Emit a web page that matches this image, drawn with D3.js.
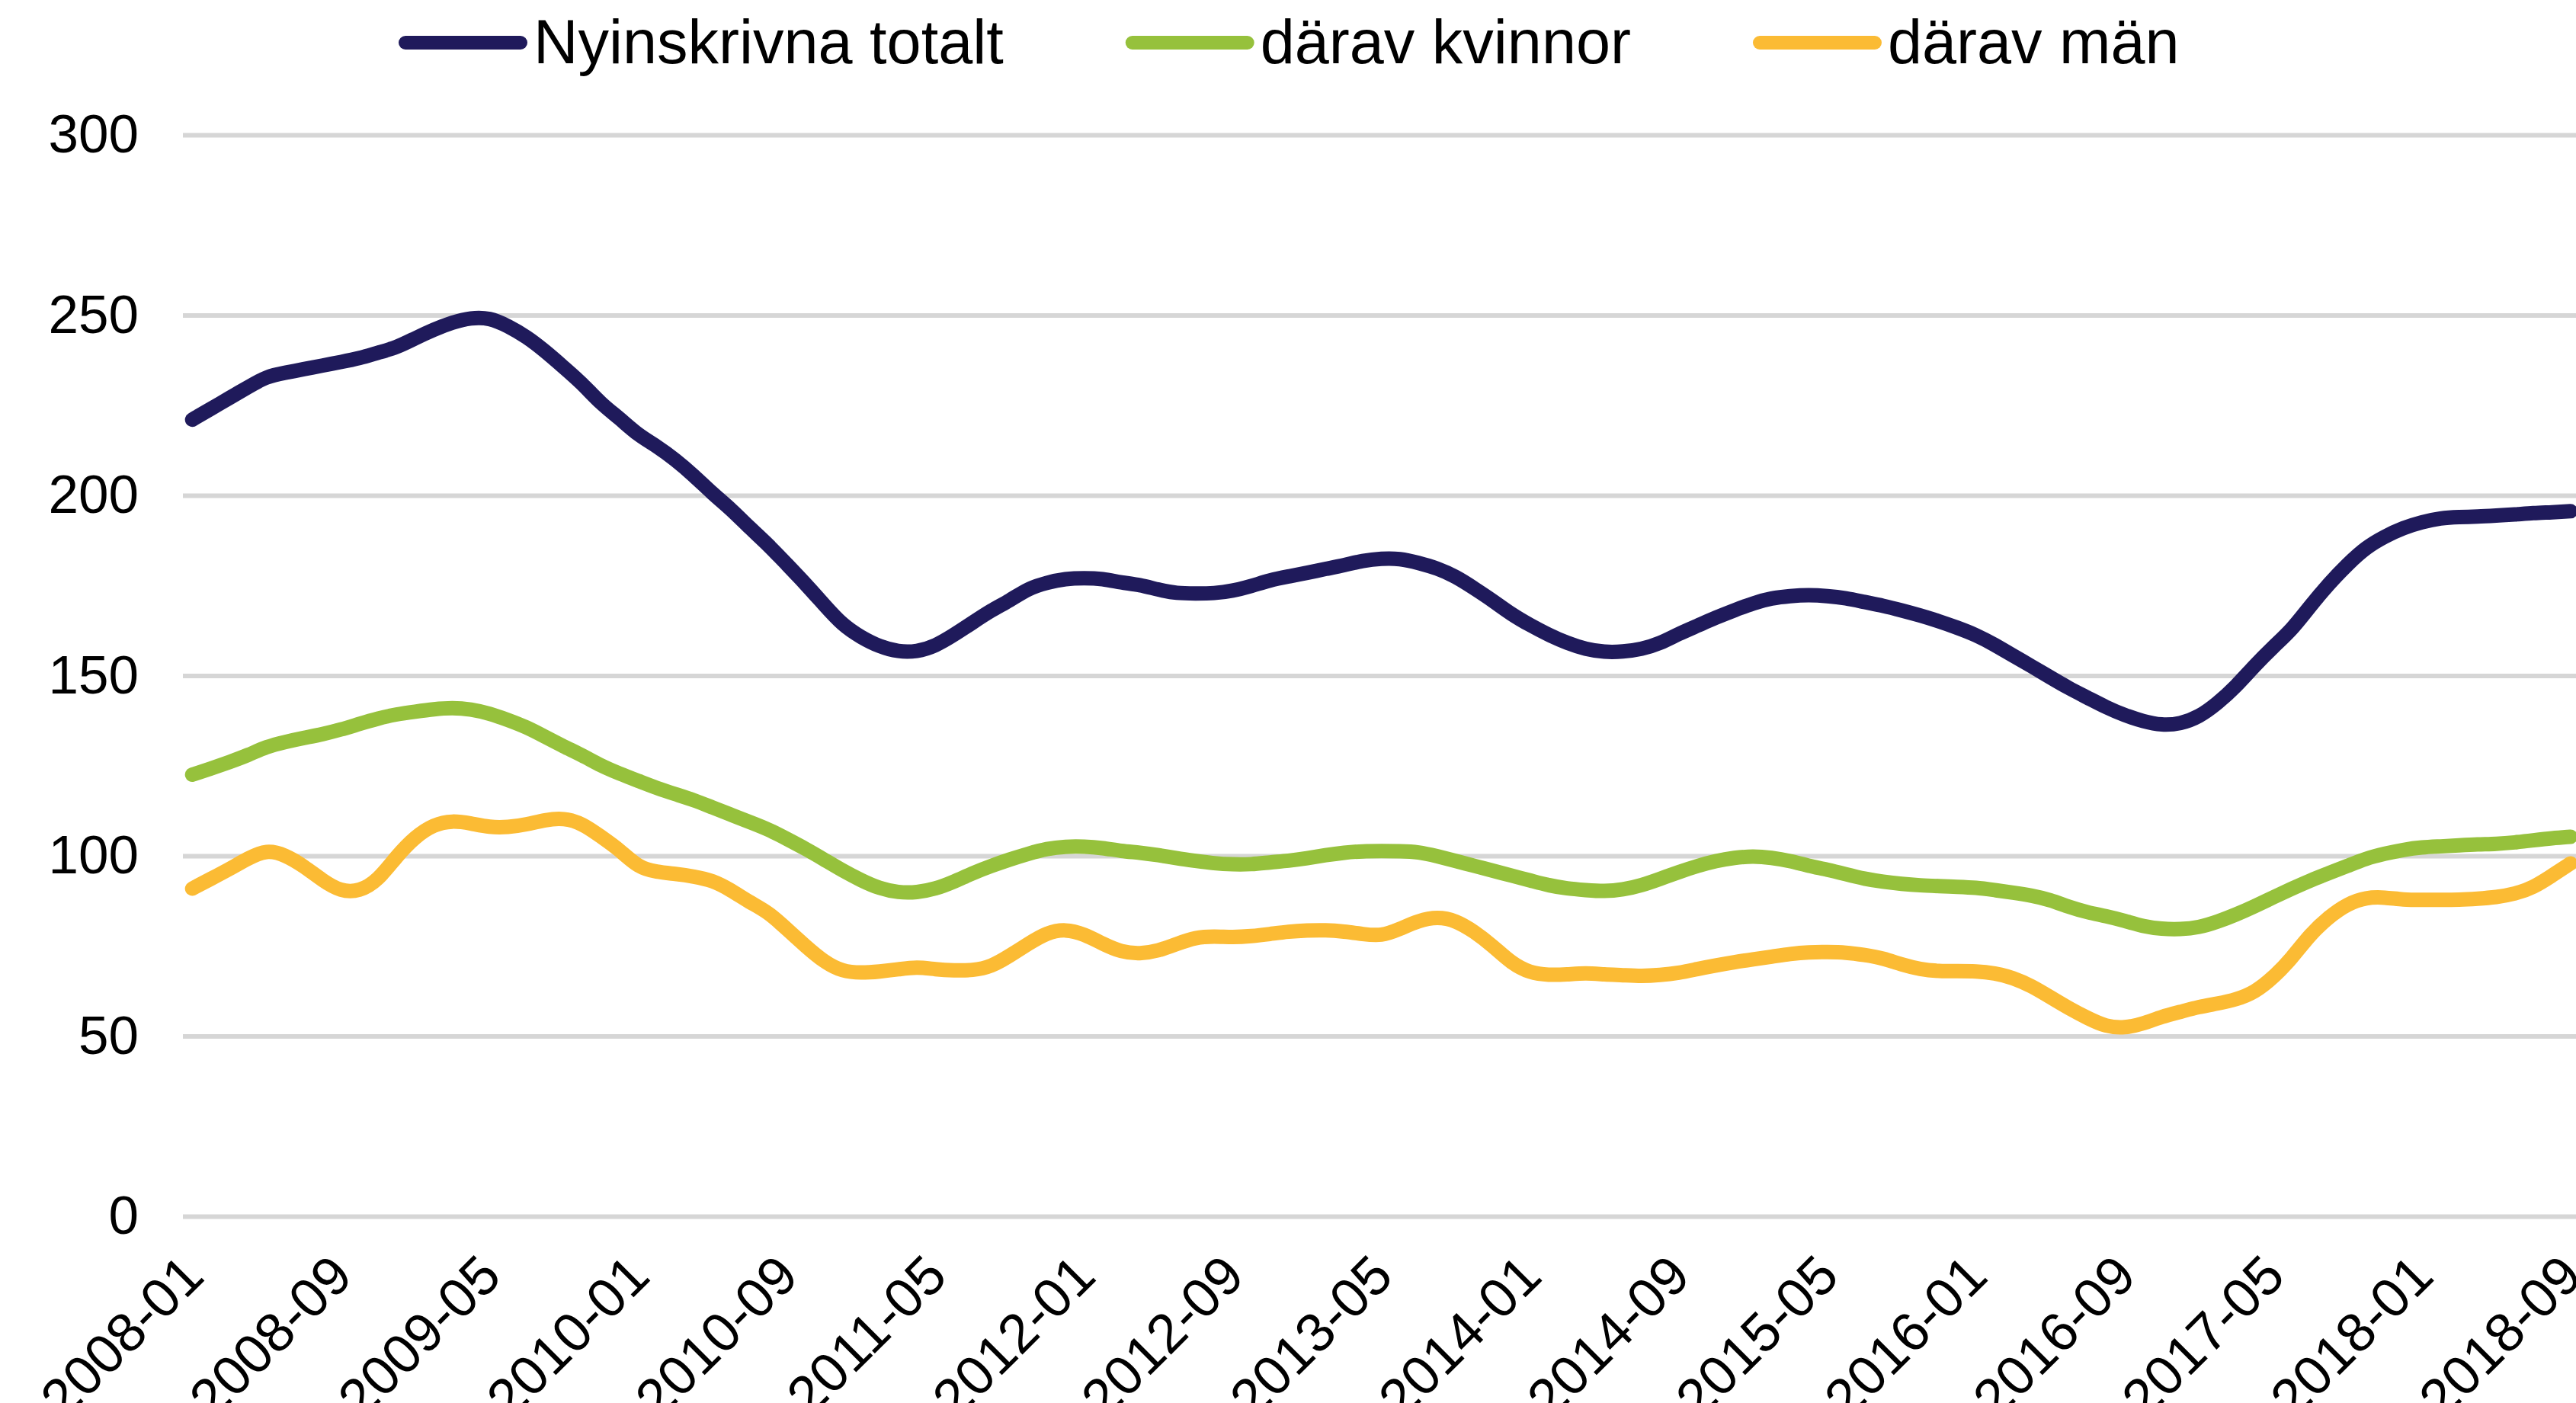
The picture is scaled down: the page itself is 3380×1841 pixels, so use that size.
<!DOCTYPE html>
<html>
<head>
<meta charset="utf-8">
<script src="https://cdn.jsdelivr.net/npm/d3@7"></script>
<style>
  body { margin: 0; background: #fff; }
  svg { display: block; font-family: "Liberation Sans", Arial, sans-serif; }
</style>
</head>
<body>
<div id="chart"></div>
<script>
// monthly categories 2008-01 .. 2018-09
const firstMonth = new Date(Date.UTC(2008, 0, 1));
const lastMonth = new Date(Date.UTC(2018, 8, 1));
const months = d3.utcMonth.range(firstMonth, d3.utcMonth.offset(lastMonth, 1)).map(d3.utcFormat('%Y-%m'));

const tickLabels = ['2008-01', '2008-09', '2009-05', '2010-01', '2010-09', '2011-05', '2012-01', '2012-09',
  '2013-05', '2014-01', '2014-09', '2015-05', '2016-01', '2016-09', '2017-05', '2018-01', '2018-09'];

const yTicks = [0, 50, 100, 150, 200, 250, 300];

const seriesNames = ['Nyinskrivna totalt', 'därav kvinnor', 'därav män'];
const seriesColors = ['#1f1a5b', '#96c13c', '#fbbb34'];

const totalt = [
  221, 224, 227, 230, 233, 234, 235, 236, 237, 238, 239.6, 241, 243.6, 246, 248, 249.3, 249.3, 247, 244, 240,
  235.5, 231, 225.4, 221.4, 216.7, 213.7, 209.9, 205.5, 200.5, 196.2, 191, 186.3, 180.9, 175.5, 169.7, 164, 160.6, 158, 156.6, 156.6,
  158.2, 161.3, 164.7, 168.1, 170.8, 174.2, 175.8, 176.9, 177.1, 176.9, 175.8, 175.2, 173.8, 172.8, 172.8, 172.8, 173.5, 174.8, 176.5, 177.5,
  178.5, 179.6, 180.6, 181.9, 182.5, 182.5, 181.3, 179.8, 177.5, 174.2, 170.8, 167, 164, 161.3, 159, 157.3, 156.5, 156.6, 157.3, 158.9,
  161.6, 163.8, 166.1, 168.1, 170.1, 171.5, 172.1, 172.4, 172.1, 171.5, 170.4, 169.4, 168.1, 166.7, 165.1, 163.3, 161.3, 158.6, 155.5, 152.6,
  149.5, 146.5, 143.9, 141.2, 139, 137.3, 136.2, 136.6, 138.5, 142.3, 147, 152.8, 158, 162.7, 169.4, 175.5, 180.9, 185.6, 188.6, 191,
  192.6, 193.7, 194, 194.1, 194.4, 194.7, 195.1, 195.3, 195.6
];

const kvinnor = [
  122.5, 124.2, 126, 127.9, 130.3, 131.6, 132.7, 133.7, 135, 136.6, 138.1, 139.3, 140, 140.7, 141.1, 140.7, 139.5, 137.7, 135.7, 133,
  130.3, 127.9, 125, 122.8, 120.8, 118.8, 117.1, 115.5, 113.4, 111.4, 109.4, 107.4, 104.7, 102, 99, 95.9, 93.2, 90.9, 89.8, 89.8,
  90.8, 92.8, 95.2, 97.2, 99, 100.6, 102, 102.6, 102.6, 102.2, 101.3, 100.9, 100.2, 99.3, 98.6, 97.9, 97.6, 97.6, 98.2, 98.6,
  99.3, 100.2, 100.9, 101.3, 101.3, 101.3, 101.1, 99.9, 98.6, 97.2, 95.9, 94.5, 93.2, 91.8, 90.9, 90.5, 90.1, 90.6, 91.8, 93.6,
  95.5, 97.2, 98.6, 99.5, 99.9, 99.5, 98.6, 97.2, 96.2, 94.9, 93.6, 92.8, 92.2, 91.8, 91.6, 91.4, 91.2, 90.5, 89.8, 89,
  87.8, 85.8, 84.3, 83.3, 82, 80.4, 79.7, 79.6, 80.1, 81.7, 83.7, 86, 88.5, 90.9, 93.2, 95.2, 97.2, 99.3, 100.6, 101.7,
  102.4, 102.6, 102.9, 103.2, 103.3, 103.7, 104.3, 104.9, 105.3
];

const man = [
  90.9, 93.6, 96.3, 99.3, 101.7, 100.3, 97.2, 93.2, 90.1, 90.1, 93.2, 99.9, 105.3, 108.7, 109.8, 109, 107.9, 107.9, 108.7, 110,
  110.5, 109, 105.3, 101.7, 96.8, 95.5, 95, 94.3, 93.2, 90.5, 87.1, 84.4, 79.7, 75, 70.6, 67.9, 67.5, 67.9, 68.5, 69.2,
  68.5, 68.2, 68.2, 69.2, 72.3, 75.6, 78.7, 79.7, 78.3, 75.6, 73.3, 72.8, 73.6, 75.6, 77.4, 77.7, 77.4, 77.7, 78.3, 79,
  79.3, 79.4, 79, 78.3, 77.7, 79.7, 82, 83.1, 82.1, 79, 75, 70.2, 67.5, 66.9, 67.1, 67.5, 67.1, 66.9, 66.6, 66.9,
  67.5, 68.6, 69.6, 70.5, 71.3, 72, 72.8, 73.3, 73.3, 73.2, 72.5, 71.6, 69.8, 68.5, 68, 68, 68, 67.5, 66.2, 63.9,
  60.8, 57.7, 55, 52.6, 52.2, 53.4, 55.4, 56.7, 58.1, 59, 60.1, 62.1, 66.2, 71.6, 78.3, 83.1, 86.7, 88.5, 88.5, 87.8,
  87.8, 87.8, 87.8, 88.1, 88.5, 89.4, 91.2, 94.5, 97.9
];

const drawChart = (width, height) => {
  const svg = d3.select('#chart')
                .append('svg')
                .attr('width', width)
                .attr('height', height);

  const plotLeft = 240;
  const step = 24.38;

  const xScale = d3.scalePoint()
                   .domain(months)
                   .range([plotLeft, plotLeft + step * months.length])
                   .padding(0.5);

  const yScale = d3.scaleLinear()
                   .domain([0, 300])
                   .range([1596, 177]);

  // gridlines + y labels
  const yAxis = d3.axisLeft(yScale)
                  .tickValues(yTicks)
                  .tickSize(-(width - plotLeft))
                  .tickPadding(58);

  const yG = svg.append('g')
                .attr('transform', `translate(${plotLeft}, 0)`)
                .call(yAxis);
  yG.select('.domain').remove();
  yG.selectAll('line')
    .attr('stroke', '#d6d6d6')
    .attr('stroke-width', 6);
  yG.selectAll('text')
    .attr('font-size', 71)
    .attr('font-family', '"Liberation Sans", Arial, sans-serif')
    .attr('fill', '#000');

  // x labels, rotated
  const xAxis = d3.axisBottom(xScale)
                  .tickValues(tickLabels)
                  .tickSize(0);
  const xG = svg.append('g')
                .attr('transform', 'translate(0, 1678)')
                .call(xAxis);
  xG.select('.domain').remove();
  xG.selectAll('text')
    .attr('font-size', 72)
    .attr('font-family', '"Liberation Sans", Arial, sans-serif')
    .attr('fill', '#000')
    .attr('text-anchor', 'end')
    .attr('dy', 0)
    .attr('y', 0)
    .attr('transform', 'translate(18, 0) rotate(-45)');

  const series = [totalt, kvinnor, man];
  const line = d3.line()
                 .x((d, i) => xScale(months[i]))
                 .y(d => yScale(d))
                 .curve(d3.curveBasis);

  // smaller series first, total on top
  [2, 1, 0].forEach(k => {
    svg.append('path')
       .datum(series[k])
       .attr('d', line)
       .attr('fill', 'none')
       .attr('stroke', seriesColors[k])
       .attr('stroke-width', 19)
       .attr('stroke-linecap', 'round')
       .attr('stroke-linejoin', 'round');
  });

  // legend
  const legend = svg.append('g').attr('class', 'legend');
  let lx = 532;
  seriesNames.forEach((name, k) => {
    legend.append('line')
          .attr('x1', lx)
          .attr('x2', lx + 151)
          .attr('y1', 56)
          .attr('y2', 56)
          .attr('stroke', seriesColors[k])
          .attr('stroke-width', 18)
          .attr('stroke-linecap', 'round');
    const t = legend.append('text')
                    .attr('x', lx + 168)
                    .attr('y', 83)
                    .attr('font-size', 81)
                    .attr('fill', '#000')
                    .text(name);
    lx = lx + 168 + t.node().getComputedTextLength() + 169;
  });
};

drawChart(3380, 1841);
</script>
</body>
</html>
